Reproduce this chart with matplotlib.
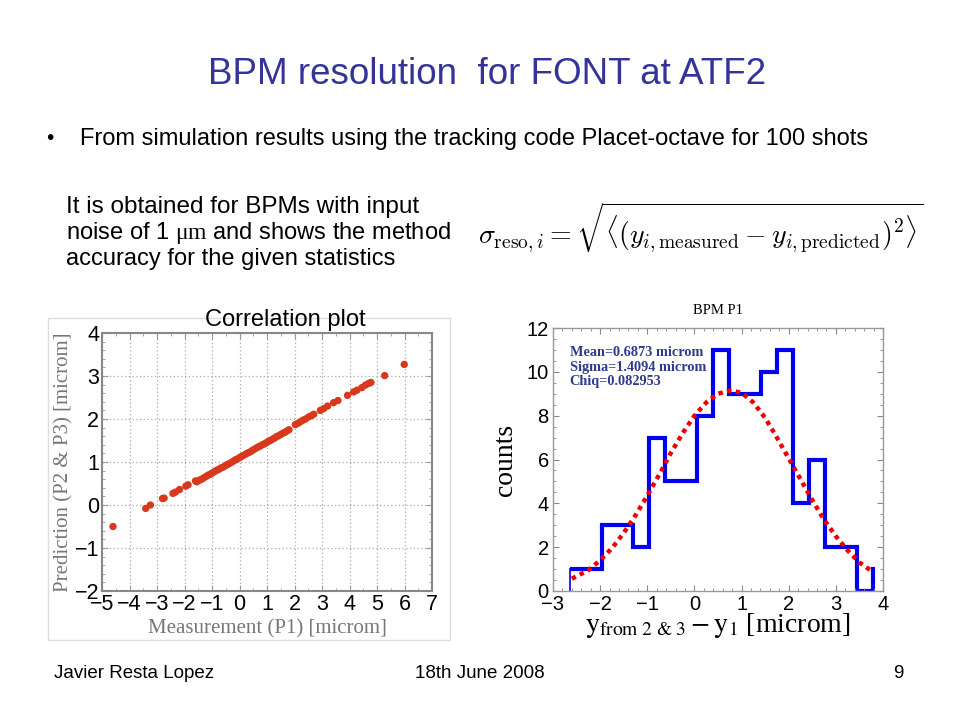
import matplotlib
matplotlib.use('Agg')
import matplotlib.pyplot as plt
import numpy as np
from matplotlib.ticker import AutoMinorLocator, MultipleLocator
from matplotlib.patches import Rectangle

# correlation plot: measured (P1) vs predicted (from P2 & P3)
meas = [-4.6, -3.41, -3.24, -2.8, -2.74, -2.42, -2.33, -2.18, -1.95, -1.87, -1.6,
        -1.55, -1.48, -1.42, -1.35, -1.28, -1.2, -1.12, -1.05, -0.98, -0.9, -0.82,
        -0.75, -0.68, -0.6, -0.52, -0.45, -0.38, -0.3, -0.22, -0.15, -0.08, 0.0,
        0.07, 0.14, 0.22, 0.3, 0.37, 0.45, 0.52, 0.6, 0.68, 0.75, 0.83, 0.9, 0.98,
        1.05, 1.12, 1.2, 1.28, 1.35, 1.42, 1.5, 1.58, 1.65, 1.72, 1.8,
        2.03, 2.12, 2.2, 2.3, 2.4, 2.52, 2.62, 2.7, 2.94, 3.06, 3.2, 3.42, 3.58,
        3.93, 4.15, 4.27, 4.45, 4.58, 4.7, 4.78, 5.28, 5.99]
pred = [-0.5, -0.08, 0.0, 0.15, 0.16, 0.27, 0.3, 0.36, 0.44, 0.47, 0.56,
        0.54, 0.57, 0.59, 0.61, 0.64, 0.67, 0.70, 0.72, 0.75, 0.78, 0.81,
        0.83, 0.86, 0.88, 0.91, 0.94, 0.96, 0.99, 1.02, 1.05, 1.07, 1.10,
        1.13, 1.15, 1.18, 1.21, 1.23, 1.26, 1.29, 1.32, 1.35, 1.37, 1.40, 1.42, 1.45,
        1.48, 1.50, 1.53, 1.56, 1.59, 1.61, 1.64, 1.67, 1.69, 1.72, 1.75,
        1.87, 1.90, 1.93, 1.97, 2.0, 2.05, 2.08, 2.11, 2.2, 2.24, 2.3, 2.38, 2.43,
        2.55, 2.63, 2.67, 2.73, 2.79, 2.83, 2.85, 3.01, 3.27]

# histogram of residuals
bin_edges = [-2.65, -2.31, -1.97, -1.63, -1.30, -0.96, -0.62, -0.28, 0.06, 0.40,
             0.73, 1.07, 1.41, 1.75, 2.09, 2.43, 2.77, 3.10, 3.44, 3.78, 3.82]
counts = [1, 1, 3, 3, 2, 7, 5, 5, 8, 11, 9, 9, 10, 11, 4, 6, 2, 2, 0, 1]

# gaussian fit curve
fit_x = [-2.6, -2.25, -2.0, -1.75, -1.5, -1.25, -1.0, -0.75, -0.5, -0.25, 0.0, 0.25,
         0.5, 0.75, 1.0, 1.25, 1.5, 1.75, 2.0, 2.25, 2.5, 2.75, 3.0, 3.25, 3.5, 3.8]
fit_y = [0.56, 0.95, 1.4, 1.95, 2.65, 3.45, 4.35, 5.3, 6.3, 7.2, 8.0, 8.6,
         9.0, 9.15, 9.05, 8.6, 7.9, 7.0, 6.05, 5.1, 4.15, 3.25, 2.5, 1.85, 1.3, 0.85]

sans = 'Liberation Sans'
serif = 'Liberation Serif'
plt.rcParams['mathtext.rm'] = serif

fig = plt.figure(figsize=(9.6, 7.2), dpi=100)
fig.patch.set_facecolor('white')

def fx(px):
    return px / 960.0

def fy(py):
    return 1 - py / 720.0

# slide texts
fig.text(fx(487), fy(75), 'BPM resolution  for FONT at ATF2', ha='center', va='center',
         fontsize=26.5, color='#333399', family=sans)
fig.text(fx(46), fy(139), '\u2022', ha='left', va='center', fontsize=15, family=sans)
fig.text(fx(80), fy(139), 'From simulation results using the tracking code Placet-octave for 100 shots',
         ha='left', va='center', fontsize=17, family=sans)
fig.text(fx(66), fy(207), 'It is obtained for BPMs with input', ha='left', va='center',
         fontsize=17.5, family=sans)
fig.text(fx(66), fy(233), r'noise of 1 $\mathrm{μm}$ and shows the method', ha='left', va='center',
         fontsize=17, family=sans, math_fontfamily='custom')
fig.text(fx(66), fy(259), 'accuracy for the given statistics', ha='left', va='center',
         fontsize=17, family=sans)
fig.text(fx(478), fy(228),
         r'$\sigma_{\mathrm{reso},i} = \sqrt{\langle(y_{i,\mathrm{measured}} - y_{i,\mathrm{predicted}})^2\rangle}$',
         ha='left', va='center', fontsize=20, math_fontfamily='cm')
fig.text(fx(285), fy(320), 'Correlation plot', ha='center', va='center', fontsize=17, family=sans)

fig.text(fx(54), fy(673), 'Javier Resta Lopez', ha='left', va='center', fontsize=13.5, family=sans)
fig.text(fx(480), fy(673), '18th June 2008', ha='center', va='center', fontsize=13.5, family=sans)
fig.text(fx(903), fy(673), '9', ha='right', va='center', fontsize=13.5, family=sans)

# border of the left picture
fig.patches.append(Rectangle((fx(48), fy(640)), fx(450) - fx(48), fy(318) - fy(640),
                             transform=fig.transFigure, fill=False, edgecolor='#dddddd', lw=1))

# left: correlation plot
ax1 = fig.add_axes([fx(102), fy(591), fx(432) - fx(102), fy(333) - fy(591)])
ax1.scatter(meas, pred, s=28, color='#d8381c', edgecolors='none', zorder=3)
ax1.set_xlim(-5, 7)
ax1.set_ylim(-2, 4)
ax1.xaxis.set_major_locator(MultipleLocator(1))
ax1.yaxis.set_major_locator(MultipleLocator(1))
ax1.xaxis.set_minor_locator(AutoMinorLocator(2))
ax1.yaxis.set_minor_locator(AutoMinorLocator(5))
ax1.grid(True, which='major', color='#aaaaaa', linestyle=(0, (1, 2)), lw=0.9)
for s in ax1.spines.values():
    s.set_color('#888888')
    s.set_linewidth(1.5)
ax1.tick_params(which='both', direction='in', top=True, right=True, color='#999999',
                labelsize=15.5, pad=2)
ax1.tick_params(which='major', length=4)
ax1.tick_params(which='minor', length=2)
for lab in ax1.get_xticklabels() + ax1.get_yticklabels():
    lab.set_family(sans)
ax1.set_xlabel('Measurement (P1) [microm]', family=serif, fontsize=15, color='#777777', labelpad=3)
ax1.set_ylabel('Prediction (P2 & P3) [microm]', family=serif, fontsize=15, color='#777777', labelpad=1)

# right: histogram
ax2 = fig.add_axes([fx(553), fy(591), fx(883) - fx(553), fy(328) - fy(591)])
ax2.stairs(counts, bin_edges, color='#0000ee', lw=3, baseline=None)
ax2.plot([bin_edges[0], bin_edges[0]], [0, counts[0]], color='#0000ee', lw=1.2)
ax2.plot(fit_x, fit_y, color='#ee0000', lw=3.2, linestyle=(0, (1.0, 1.0)))
ax2.set_xlim(-3, 4)
ax2.set_ylim(0, 12)
ax2.xaxis.set_major_locator(MultipleLocator(1))
ax2.yaxis.set_major_locator(MultipleLocator(2))
ax2.xaxis.set_minor_locator(AutoMinorLocator(5))
ax2.yaxis.set_minor_locator(AutoMinorLocator(4))
for s in ax2.spines.values():
    s.set_color('#999999')
    s.set_linewidth(1)
ax2.tick_params(which='both', direction='in', top=True, right=True, color='#888888',
                labelsize=14.5, pad=3)
ax2.tick_params(which='major', length=4)
ax2.tick_params(which='minor', length=2)
for lab in ax2.get_xticklabels() + ax2.get_yticklabels():
    lab.set_family(sans)
ax2.text(0.05, 0.93, 'Mean=0.6873 microm\nSigma=1.4094 microm\nChiq=0.082953',
         transform=ax2.transAxes, ha='left', va='top', family=serif, fontsize=10.3,
         fontweight='bold', color='#2e3a8c', linespacing=1.15)
ax2.set_title('BPM P1', family=serif, fontsize=10.5, pad=10)
ax2.set_ylabel('counts', family=serif, fontsize=20, labelpad=6)
ax2.set_xlabel(r'$\mathrm{y}_{\mathrm{from\ 2\ &\ 3}} - \mathrm{y}_{1}$ [microm]',
               family=serif, fontsize=20, math_fontfamily='stix', labelpad=-2)

fig.savefig('out.png', dpi=100)
